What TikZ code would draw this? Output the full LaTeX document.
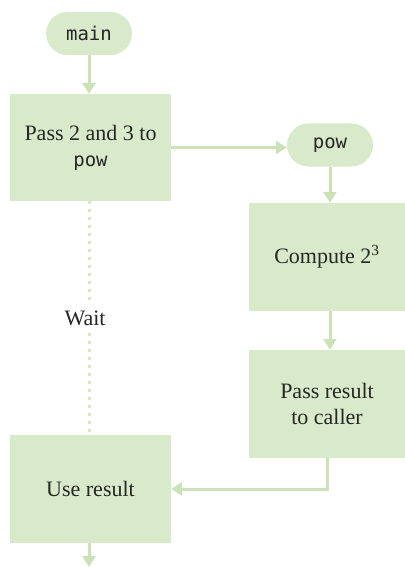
\documentclass[tikz,border=0pt]{standalone}
\usepackage{fontspec}
\setmainfont{Liberation Serif}
\setmonofont{DejaVu Sans Mono}
\usetikzlibrary{arrows.meta}
\definecolor{boxfill}{HTML}{D9EACB}
\definecolor{linec}{HTML}{CBE2B8}
\begin{document}
\begin{tikzpicture}[x=1pt,y=-1pt,
  every node/.style={font=\fontsize{22}{26}\selectfont, text=black!85},
  stepbox/.style={fill=boxfill, draw=none, align=center, inner sep=0pt},
  pill/.style={fill=boxfill, draw=none, minimum width=86pt, minimum height=43pt, rounded corners=21.5pt, inner sep=0pt, font=\fontsize{19}{22}\selectfont\ttfamily},
  conn/.style={draw=linec, line width=3pt, -{Triangle[width=13pt,length=11pt]}},
  waitline/.style={draw=linec!80, line width=3pt, dash pattern=on 3pt off 5pt}
]
\useasboundingbox (0,0) rectangle (404,567);
\node[pill] (main) at (89,33.5) {main};
\node[stepbox, minimum width=161pt, minimum height=107pt] (pass) at (90.5,147.5) {Pass 2 and 3 to\\{\fontsize{19}{26}\selectfont\ttfamily pow}};
\node[pill] (pow) at (330,145) {pow};
\node[stepbox, minimum width=156pt, minimum height=108pt] (comp) at (327,257) {Compute 2\textsuperscript{3}};
\node[stepbox, minimum width=156pt, minimum height=108pt] (res) at (327,404) {Pass result\\ to caller};
\node[stepbox, minimum width=161pt, minimum height=108pt] (use) at (90.5,489) {Use result};
\node[inner sep=0pt, minimum height=30pt] (wait) at (85,318) {Wait};
\coordinate (out) at (89,567);

\draw[conn] (main.south -| 89,0) -- (pass.north -| 89,0);
\draw[conn] (pass.east) -- (pass.east -| pow.west);
\draw[conn] (pow.south) -- (comp.north -| pow.south);
\draw[conn] (comp.south -| pow.south) -- (res.north -| pow.south);
\draw[conn] (res.south) |- (use.east);
\draw[conn] (use.south -| out) -- (out);
\draw[waitline] (pass.south -| 89,0) -- (wait.north -| 89,0);
\draw[waitline] (wait.south -| 89,0) -- (use.north -| 89,0);
\end{tikzpicture}
\end{document}
